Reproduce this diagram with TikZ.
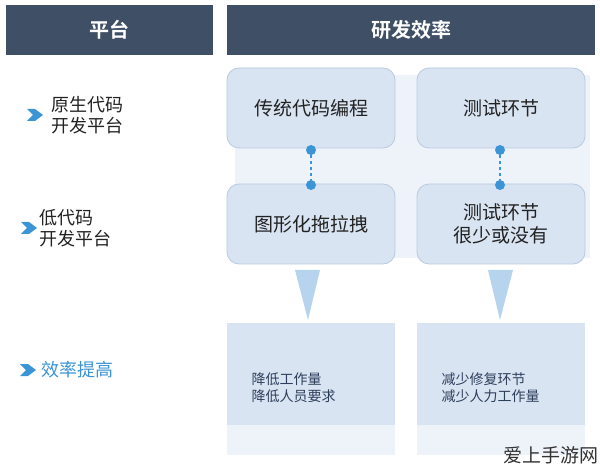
\documentclass[tikz,border=0pt]{standalone}
\usepackage{fontspec}
\setmainfont{Noto Sans CJK SC}
\newfontfamily\cjkb{Noto Sans CJK SC Bold}
\begin{document}
\begin{tikzpicture}[x=1pt,y=-1pt,
  hdr/.style={fill=hdrc,draw=none},
  htxt/.style={text=white,font=\cjkb\fontsize{20}{22}\selectfont},
  rbox/.style={draw=boxb,line width=0.8pt,fill=boxf,rounded corners=12pt,font=\fontsize{19}{23}\selectfont,text=txt,align=center,minimum width=168pt,minimum height=80pt,inner sep=2pt},
  dot/.style={circle,fill=dotc,inner sep=0pt,minimum size=10pt},
  lab/.style={font=\fontsize{18}{21}\selectfont,text=txt,align=left,anchor=west,inner sep=1pt},
  chev/.style={fill=dotc,draw=none},
  small/.style={font=\fontsize{14}{17}\selectfont,text=txt2,align=left,anchor=west}]
\definecolor{hdrc}{HTML}{3E4F66}
\definecolor{boxf}{HTML}{D9E4F2}
\definecolor{boxb}{HTML}{B9CADF}
\definecolor{txt}{HTML}{222222}
\definecolor{txt2}{HTML}{2E3F5C}
\definecolor{dotc}{HTML}{3A94D6}
\definecolor{tri}{HTML}{B7D4EE}
\definecolor{pan}{HTML}{EEF3FA}
\useasboundingbox (0,0) rectangle (600,465);
\fill[white] (0,0) rectangle (600,465);
% headers
\path[hdr] (6,5) rectangle (213,55);
\node[htxt] (h1) at (109,30) {平台};
\path[hdr] (227,5) rectangle (595,55);
\node[htxt] (h2) at (411,30) {研发效率};
% panel
\fill[pan] (235,75) rectangle (590,258);
% boxes
\node[rbox] (b1) at (311,108) {传统代码编程};
\node[rbox] (b2) at (501,108) {测试环节};
\node[rbox] (b3) at (311,224) {图形化拖拉拽};
\node[rbox] (b4) at (501,224) {测试环节\\很少或没有};
% dots
\node[dot] (d1) at (311,150) {};
\node[dot] (d2) at (311,185) {};
\node[dot] (d3) at (500,150) {};
\node[dot] (d4) at (500,185) {};
\draw[dotc,dashed,line width=1.2pt] (d1) -- (d2);
\draw[dotc,dashed,line width=1.2pt] (d3) -- (d4);
% triangles
\fill[tri] (295,270) -- (320,270) -- (308,320) -- cycle;
\fill[tri] (488,270) -- (513,270) -- (500,320) -- cycle;
% bottom boxes
\fill[pan] (227,423) rectangle (395,455);
\fill[pan] (417,423) rectangle (585,455);
\fill[boxf] (227,323) rectangle (395,425);
\fill[boxf] (417,323) rectangle (585,425);
\node[small] (e1) at (248,388) {降低工作量\\降低人员要求};
\node[small] (e2) at (438,388) {减少修复环节\\减少人力工作量};
% left labels
\fill[chev] (27,109) -- (35,109) -- (43,115) -- (35,121) -- (27,121) -- (33,115) -- cycle;
\node[lab] (l1) at (50,115) {原生代码\\开发平台};
\fill[chev] (21,222) -- (29,222) -- (37,228) -- (29,234) -- (21,234) -- (27,228) -- cycle;
\node[lab] (l2) at (38,228) {低代码\\开发平台};
\fill[chev] (20,364) -- (28,364) -- (36,370) -- (28,376) -- (20,376) -- (26,370) -- cycle;
\node[lab,text=dotc] (l3) at (40,370) {效率提高};
% watermark
\node[font=\fontsize{19}{21}\selectfont,text=black!80,anchor=south east,inner sep=1pt] (wm) at (600,465) {爱上手游网};
\end{tikzpicture}
\end{document}
